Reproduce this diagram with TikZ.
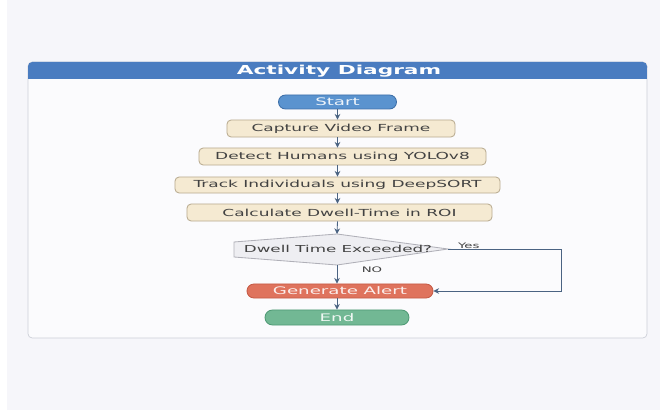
\documentclass[tikz,border=0pt]{standalone}
\usepackage{fontspec}
\setmainfont{DejaVu Sans}
\newfontfamily\diagfont[FakeStretch=1.75]{DejaVu Sans}
\usepackage{tikz}
\usetikzlibrary{shapes.misc, arrows.meta, positioning, calc}
\definecolor{pagebg}{RGB}{246,246,250}
\definecolor{panelbg}{RGB}{251,251,253}
\definecolor{panelrim}{RGB}{205,208,216}
\definecolor{hdrblue}{RGB}{74,124,192}
\definecolor{startfill}{RGB}{90,147,207}
\definecolor{startrim}{RGB}{62,111,168}
\definecolor{actfill}{RGB}{245,234,210}
\definecolor{actrim}{RGB}{184,171,144}
\definecolor{acttext}{RGB}{66,66,66}
\definecolor{decfill}{RGB}{238,238,242}
\definecolor{decrim}{RGB}{176,176,184}
\definecolor{alertfill}{RGB}{223,115,93}
\definecolor{alertrim}{RGB}{197,90,69}
\definecolor{endfill}{RGB}{114,184,148}
\definecolor{endrim}{RGB}{79,154,117}
\definecolor{arrowcol}{RGB}{74,99,130}
\tikzset{
  action/.style={rectangle, draw=actrim, fill=actfill, text=acttext,
    minimum height=0.425cm, inner sep=0pt, rounded corners=3pt,
    line width=0.6pt, font=\diagfont\fontsize{6.9}{8}\selectfont},
  terminal/.style={rounded rectangle, inner sep=0pt, line width=0.6pt,
    minimum height=0.36cm, font=\diagfont\fontsize{7.4}{9}\selectfont},
  dectext/.style={inner sep=0pt, text=acttext,
    font=\diagfont\fontsize{6.8}{8}\selectfont},
  branch/.style={inner sep=1pt, text=acttext,
    font=\diagfont\fontsize{5.4}{7}\selectfont},
  arrow/.style={-{Stealth[length=4pt,width=4pt]}, line width=0.6pt, color=arrowcol},
  line/.style={line width=0.6pt, color=arrowcol}
}
\begin{document}
\begin{tikzpicture}[x=0.025cm,y=-0.025cm]
  \useasboundingbox (0,0) rectangle (660,413);
  % ── page and panel ────────────────────────────────────────────────────────
  \fill[white] (0,0) rectangle (660,413);
  \fill[pagebg] (7,0) rectangle (660,410);
  \draw[panelrim, fill=panelbg, rounded corners=3pt, line width=0.5pt] (28,62) rectangle (647,338);
  \fill[hdrblue, rounded corners=3pt] (28,62) rectangle (647,72);
  \fill[hdrblue] (28,68) rectangle (647,79);
  \node[font=\diagfont\bfseries\fontsize{8.8}{10}\selectfont, text=white] (title) at (339,71) {Activity Diagram};
  % ── flow ──────────────────────────────────────────────────────────────────
  \node[terminal, fill=startfill, draw=startrim, text=white!90!startfill,
    minimum width=2.95cm, minimum height=0.35cm] (start) at (337.5,102) {Start};
  \node[action, minimum width=5.7cm] (capture) at (341,128.5) {Capture Video Frame};
  \node[action, minimum width=7.175cm] (detect) at (342.5,156.5) {Detect Humans using YOLOv8};
  \node[action, minimum width=8.125cm, minimum height=0.4cm] (track) at (337.5,185) {Track Individuals using DeepSORT};
  \node[action, minimum width=7.625cm] (calc) at (339.5,212.5) {Calculate Dwell-Time in ROI};
  % decision shape (flat left side, pointed right)
  \coordinate (d0) at (338,249);
  \coordinate (dectop) at ($(d0)+(-1,-15)$);
  \coordinate (decright) at ($(d0)+(110,0)$);
  \coordinate (decbot) at ($(d0)+(-1,16)$);
  \draw[decrim, fill=decfill, line width=0.6pt]
    ($(d0)+(-104,-7)$) -- (dectop) -- (decright) -- (decbot) -- ($(d0)+(-104,8)$) -- cycle;
  \node[dectext] (dec) at (d0) {Dwell Time Exceeded?};
  \node[terminal, fill=alertfill, draw=alertrim, text=white!88!alertfill,
    minimum width=4.65cm, minimum height=0.35cm] (alert) at (340,291) {Generate Alert};
  \node[terminal, fill=endfill, draw=endrim, text=white!90!endfill,
    minimum width=3.6cm, minimum height=0.375cm] (end) at (337,317.5) {End};
  % ── connectors ────────────────────────────────────────────────────────────
  \draw[arrow] (start.south) -- (start.south |- capture.north);
  \draw[arrow] (start.south |- capture.south) -- (start.south |- detect.north);
  \draw[arrow] (start.south |- detect.south) -- (start.south |- track.north);
  \draw[arrow] (start.south |- track.south) -- (start.south |- calc.north);
  \draw[arrow] (start.south |- calc.south) -- (dectop);
  \draw[arrow] (decbot) -- (decbot |- alert.north);
  \draw[arrow] (decbot |- alert.south) -- (decbot |- end.north);
  \draw[arrow] (decright) -- ++(113,0) |- (alert.east);
  \node[branch, above right=-1pt and 6pt of decright] (yes) {Yes};
  \node[branch] (no) at (372,270) {NO};
\end{tikzpicture}
\end{document}
